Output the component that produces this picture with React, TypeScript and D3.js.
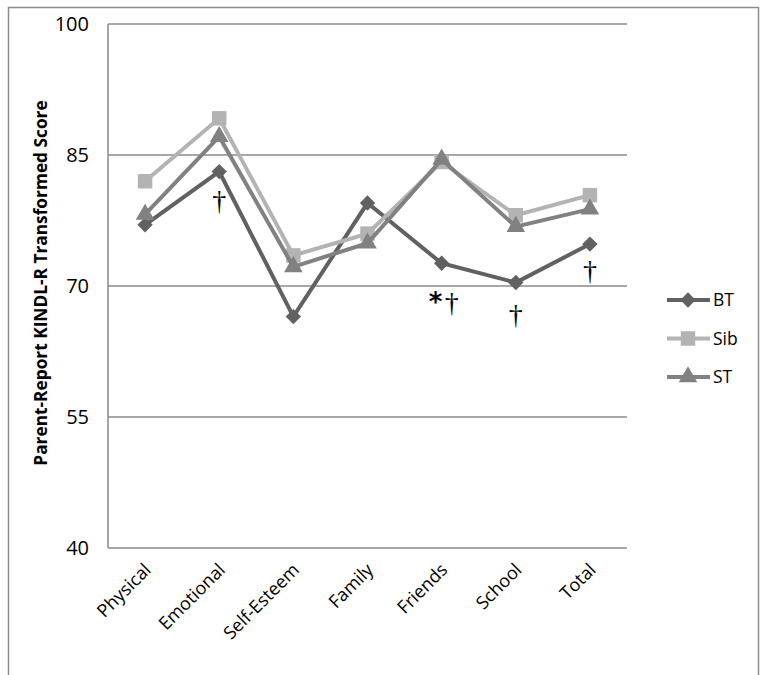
import React from "react";
import * as d3 from "d3";

const categories = ["Physical", "Emotional", "Self-Esteem", "Family", "Friends", "School", "Total"];
const btValues = [77.0, 83.1, 66.5, 79.5, 72.6, 70.4, 74.8];
const sibValues = [82.0, 89.2, 73.5, 76.0, 84.2, 78.1, 80.4];
const stValues = [78.2, 87.1, 72.2, 74.9, 84.5, 76.8, 78.8];
const yTicks = [40, 55, 70, 85, 100];
const seriesNames = ["BT", "Sib", "ST"];
const annotations = [
  { cat: "Emotional", text: "†" },
  { cat: "Friends", text: "*†" },
  { cat: "School", text: "†" },
  { cat: "Total", text: "†" },
];
const annotationOffsets = [38, 49, 41, 36];

const W = 767;
const H = 675;
const plot = { left: 108, right: 627, top: 24, bottom: 548 };

export default function App() {
  const x = d3.scaleBand().domain(categories).range([plot.left, plot.right]);
  const y = d3.scaleLinear().domain([40, 100]).range([plot.bottom, plot.top]);
  const cx = (c: string) => (x(c) as number) + x.bandwidth() / 2;

  const series = [
    { name: seriesNames[0], values: btValues, color: "#616161", marker: "diamond" },
    { name: seriesNames[1], values: sibValues, color: "#b3b3b3", marker: "square" },
    { name: seriesNames[2], values: stValues, color: "#818181", marker: "triangle" },
  ];

  const line = d3
    .line<number>()
    .x((_, i) => cx(categories[i]))
    .y((d) => y(d));

  const sym = (m: string) => {
    if (m === "diamond") return d3.symbol().type(d3.symbolDiamond2).size(150)();
    if (m === "square") return d3.symbol().type(d3.symbolSquare).size(210)();
    return d3.symbol().type(d3.symbolTriangle).size(150)();
  };

  const font = "'Open Sans', 'Noto Sans', sans-serif";

  return (
    <svg width={W} height={H} style={{ position: "absolute", left: 0, top: 0 }}>
      <rect x={0} y={0} width={W} height={H} fill="#fff" />
      <rect x={8.5} y={7.5} width={750} height={720} fill="none" stroke="#8c8c8c" strokeWidth={1.5} />
      {yTicks.map((t) => (
        <g key={t}>
          {t !== 40 && t !== 100 && (
            <line x1={plot.left} x2={plot.right} y1={y(t)} y2={y(t)} stroke="#8a8a8a" strokeWidth={1.5} />
          )}
          <text x={89} y={y(t)} dy="0.35em" textAnchor="end" fontFamily={font} fontSize={20} fill="#000">
            {t}
          </text>
        </g>
      ))}
      <line x1={plot.left} x2={plot.right} y1={plot.top} y2={plot.top} stroke="#8a8a8a" strokeWidth={1.5} />
      <line x1={plot.left} x2={plot.right} y1={plot.bottom} y2={plot.bottom} stroke="#8a8a8a" strokeWidth={1.5} />
      <line x1={plot.left} x2={plot.left} y1={plot.top} y2={plot.bottom} stroke="#8a8a8a" strokeWidth={1.5} />
      <text
        transform={`translate(47, ${(plot.top + plot.bottom) / 2 - 3}) rotate(-90)`}
        textAnchor="middle"
        fontFamily={font}
        fontWeight="bold"
        fontSize={17.3}
        fill="#000"
      >
        Parent-Report KINDL-R Transformed Score
      </text>
      {categories.map((c) => (
        <text
          key={c}
          transform={`translate(${cx(c) + 7}, ${plot.bottom + 23}) rotate(-45)`}
          textAnchor="end"
          fontFamily={font}
          fontSize={18}
          fill="#000"
        >
          {c}
        </text>
      ))}
      {series.map((s) => (
        <g key={s.name}>
          <path d={line(s.values) || ""} fill="none" stroke={s.color} strokeWidth={4} strokeLinejoin="miter" />
          {s.values.map((v, i) => (
            <path key={i} d={sym(s.marker) || ""} transform={`translate(${cx(categories[i])}, ${y(v)})`} fill={s.color} />
          ))}
        </g>
      ))}
      {annotations.map((a, i) => {
        const idx = categories.indexOf(a.cat);
        const base = y(btValues[idx]) + annotationOffsets[i];
        if (a.text.length > 1) {
          return (
            <g key={a.cat}>
              <text
                x={cx(a.cat) - 6}
                y={base - 1}
                textAnchor="middle"
                fontFamily="'DejaVu Sans', sans-serif"
                fontWeight="bold"
                fontSize={26}
                fill="#000"
              >
                {a.text[0]}
              </text>
              <text x={cx(a.cat) + 10} y={base} textAnchor="middle" fontFamily="'Liberation Serif', serif" fontSize={28} fill="#000">
                {a.text.slice(1)}
              </text>
            </g>
          );
        }
        return (
          <text key={a.cat} x={cx(a.cat)} y={base} textAnchor="middle" fontFamily="'Liberation Serif', serif" fontSize={28} fill="#000">
            {a.text}
          </text>
        );
      })}
      {series.map((s, i) => {
        const ly = 300 + i * 38.5;
        return (
          <g key={s.name}>
            <line x1={667} x2={710} y1={ly} y2={ly} stroke={s.color} strokeWidth={4} />
            <path d={sym(s.marker) || ""} transform={`translate(688, ${ly})`} fill={s.color} />
            <text x={713} y={ly} dy="0.35em" fontFamily={font} fontSize={17.5} fill="#000">
              {s.name}
            </text>
          </g>
        );
      })}
    </svg>
  );
}
